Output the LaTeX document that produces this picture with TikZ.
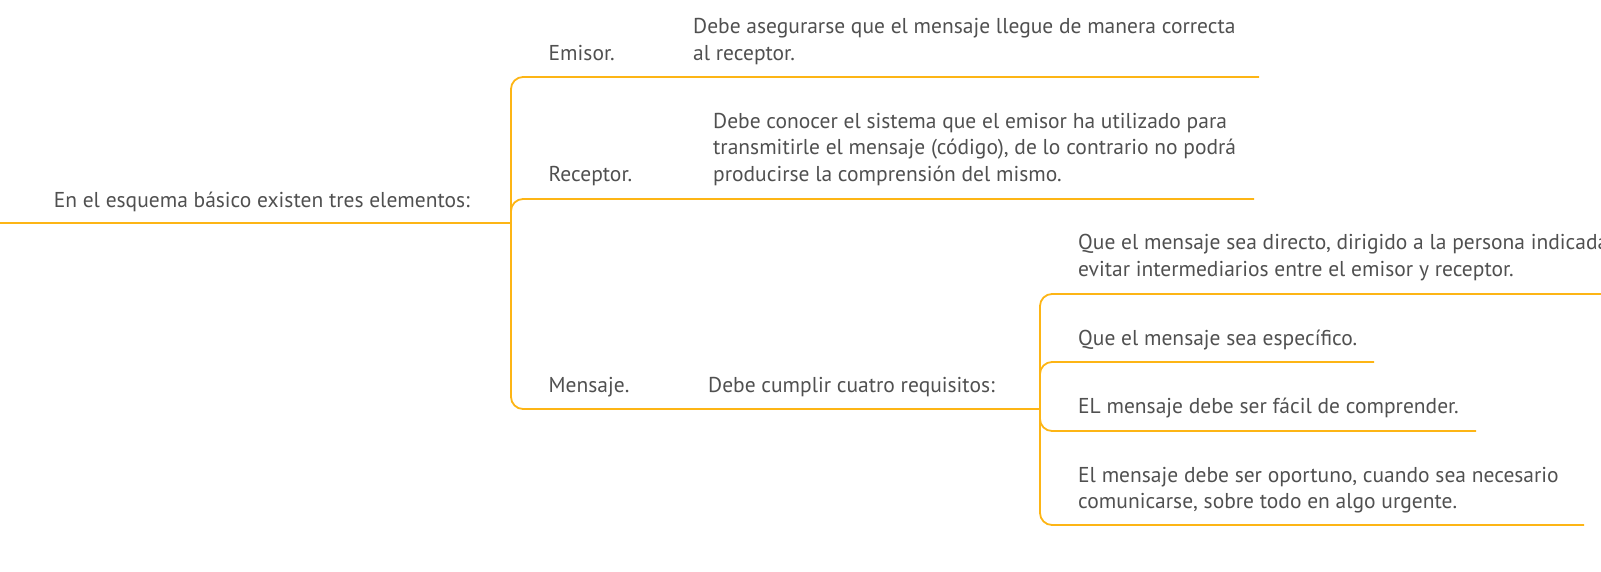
\documentclass[tikz,border=0pt]{standalone}
\usepackage{fontspec}
\setmainfont{PT Sans}
\definecolor{branch}{HTML}{FDB515}
\definecolor{txt}{HTML}{505050}
\newcommand{\txtfont}{\fontsize{21.5}{26.7}\selectfont}
\begin{document}
\begin{tikzpicture}[x=1pt,y=-1pt,
  lbl/.style={anchor=base west,inner sep=0pt,font=\txtfont,text=txt,align=left},
  conn/.style={draw=branch,line width=1.8pt,rounded corners=12pt}]
\useasboundingbox (0,0) rectangle (1601,571);
% coordinates
\coordinate (rootL) at (0,223);
\coordinate (s1) at (511,223);
\coordinate (s2) at (1040,409);
\coordinate (emE) at (1259,77);
\coordinate (reE) at (1254,199);
\coordinate (q1E) at (1601,294);
\coordinate (q2E) at (1374,362);
\coordinate (q3E) at (1476,431);
\coordinate (q4E) at (1584,525);
% texts (base = baseline of the last line)
\node[lbl] (root) at (53.6,207.2) {En el esquema básico existen tres elementos:};
\node[lbl] (emisor) at (548.5,60.5) {Emisor.};
\node[lbl] (emisorD) at (693,60.5) {Debe asegurarse que el mensaje llegue de manera correcta\\al receptor.};
\node[lbl] (receptor) at (548.5,181.5) {Receptor.};
\node[lbl] (receptorD) at (713,181.5) {Debe conocer el sistema que el emisor ha utilizado para\\transmitirle el mensaje (código), de lo contrario no podrá\\producirse la comprensión del mismo.};
\node[lbl] (mensaje) at (548.5,392.2) {Mensaje.};
\node[lbl] (mensajeD) at (708,392.2) {Debe cumplir cuatro requisitos:};
\node[lbl] (q1) at (1078,276.5) {Que el mensaje sea directo, dirigido a la persona indicada,\\evitar intermediarios entre el emisor y receptor.};
\node[lbl] (q2) at (1078,345.5) {Que el mensaje sea específico.};
\node[lbl] (q3) at (1078,413.9) {EL mensaje debe ser fácil de comprender.};
\node[lbl] (q4) at (1078,508.9) {El mensaje debe ser oportuno, cuando sea necesario\\comunicarse, sobre todo en algo urgente.};
% connectors
\draw[conn] (rootL) -- (s1);
\draw[conn] (s1) |- (emE);
\draw[conn] (s1) |- (reE);
\draw[conn] (s1) |- (s2);
\draw[conn] (s2) |- (q1E);
\draw[conn] (s2) |- (q2E);
\draw[conn] (s2) |- (q3E);
\draw[conn] (s2) |- (q4E);
\end{tikzpicture}
\end{document}
